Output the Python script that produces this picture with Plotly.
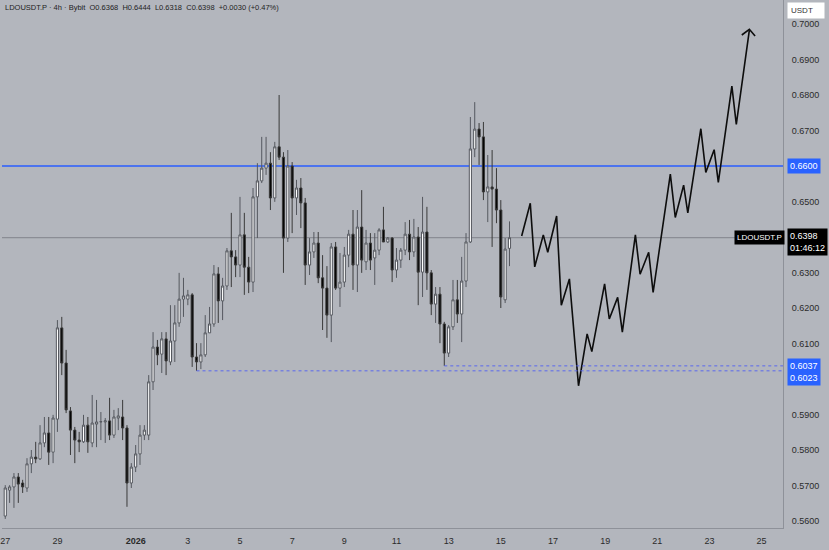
import pandas as pd
import plotly.graph_objects as go

# ---------------- data ----------------
first_bar = "2025-12-27 00:00"
bar_hours = 4

opens = [
    .5614, .5687, .5696, .5724, .5707, .5693, .5761, .5780, .5775, .5820,
    .5848, .5794, .5887, .6144, .6045, .5910, .5856, .5828, .5823, .5870,
    .5820, .5873, .5879, .5879, .5882, .5842, .5890, .5893, .5862, .5707,
    .5752, .5789, .5842, .5842, .5992, .6090, .6070, .6113, .6048, .6107,
    .6158, .6225, .6225, .6237, .6062, .6048, .6068, .6130, .6155, .6296,
    .6220, .6262, .6361, .6344, .6321, .6406, .6315, .6273, .6513, .6558,
    .6594, .6608, .6510, .6654, .6625, .6397, .6600, .6510, .6538, .6496,
    .6321, .6358, .6383, .6285, .6256, .6180, .6372, .6256, .6273, .6349,
    .6408, .6321, .6428, .6330, .6383, .6341, .6363, .6420, .6386, .6397,
    .6307, .6335, .6363, .6408, .6358, .6400, .6301, .6414, .6299, .6211,
    .6239, .6155, .6073, .6147, .6223, .6183, .6276, .6386, .6648, .6704,
    .6682, .6527, .6541, .6535, .6476, .6223, .6368]
highs = [
    .5701, .5701, .5735, .5735, .5716, .5777, .5800, .5823, .5870, .5893,
    .5893, .5899, .6166, .6175, .6082, .5921, .5865, .5851, .5899, .5893,
    .5955, .5941, .5907, .5890, .5947, .5913, .5918, .5941, .5870, .5763,
    .5814, .5870, .5870, .6011, .6132, .6110, .6132, .6132, .6208, .6208,
    .6299, .6285, .6251, .6242, .6101, .6101, .6180, .6203, .6321, .6315,
    .6285, .6369, .6468, .6363, .6513, .6468, .6344, .6538, .6608, .6682,
    .6682, .6639, .6668, .6800, .6639, .6645, .6611, .6561, .6566, .6510,
    .6397, .6414, .6414, .6349, .6318, .6383, .6386, .6355, .6372, .6420,
    .6476, .6476, .6532, .6420, .6411, .6411, .6425, .6485, .6400, .6400,
    .6369, .6369, .6442, .6448, .6451, .6428, .6513, .6485, .6307, .6259,
    .6259, .6161, .6152, .6279, .6279, .6344, .6411, .6738, .6780, .6721,
    .6724, .6631, .6645, .6594, .6504, .6397, .6444]
lows = [
    .5606, .5651, .5637, .5651, .5679, .5682, .5735, .5763, .5772, .5808,
    .5758, .5763, .5851, .6011, .5904, .5786, .5763, .5794, .5820, .5792,
    .5808, .5808, .5828, .5820, .5828, .5834, .5856, .5828, .5640, .5693,
    .5738, .5758, .5828, .5828, .5969, .6039, .6017, .6011, .6039, .6048,
    .6147, .6175, .6208, .6034, .6023, .6028, .6062, .6130, .6147, .6158,
    .6166, .6251, .6259, .6287, .6287, .6237, .6242, .6245, .6397, .6552,
    .6575, .6476, .6499, .6617, .6299, .6386, .6411, .6462, .6425, .6265,
    .6293, .6341, .6270, .6138, .6116, .6104, .6251, .6203, .6259, .6315,
    .6251, .6245, .6299, .6307, .6307, .6265, .6349, .6386, .6383, .6273,
    .6285, .6313, .6349, .6335, .6344, .6208, .6231, .6251, .6180, .6158,
    .6101, .6037, .6062, .6138, .6158, .6104, .6259, .6383, .6625, .6603,
    .6504, .6442, .6372, .6439, .6200, .6214, .6318]
closes = [
    .5693, .5696, .5724, .5704, .5696, .5761, .5780, .5775, .5820, .5848,
    .5794, .5890, .6144, .6045, .5913, .5856, .5828, .5823, .5870, .5823,
    .5876, .5879, .5880, .5882, .5842, .5893, .5896, .5862, .5707, .5752,
    .5789, .5842, .5856, .5992, .6090, .6068, .6113, .6051, .6107, .6158,
    .6225, .6234, .6237, .6062, .6048, .6068, .6130, .6155, .6296, .6220,
    .6262, .6361, .6344, .6321, .6406, .6315, .6273, .6513, .6558, .6594,
    .6608, .6510, .6654, .6625, .6397, .6600, .6510, .6538, .6496, .6321,
    .6358, .6383, .6285, .6256, .6180, .6372, .6256, .6273, .6349, .6408,
    .6321, .6428, .6335, .6383, .6335, .6363, .6420, .6386, .6397, .6307,
    .6335, .6363, .6408, .6358, .6400, .6301, .6414, .6299, .6211, .6239,
    .6155, .6073, .6147, .6223, .6183, .6276, .6386, .6648, .6704, .6682,
    .6527, .6541, .6535, .6476, .6231, .6366, .6398]

# projected path: days after 2026-01-01 and price
path_days = [14.80, 15.13, 15.30, 15.63, 15.80, 16.14, 16.32, 16.63, 16.98, 17.31,
             17.49, 17.98, 18.16, 18.48, 18.66, 19.16, 19.34, 19.67, 19.84, 20.50,
             20.69, 21.01, 21.17, 21.67, 21.86, 22.18, 22.34, 22.86, 23.03, 23.53]
path_prices = [0.6403, 0.6495, 0.6316, 0.6406, 0.6357, 0.6459, 0.6208, 0.6282, 0.5981, 0.6127,
               0.6077, 0.6268, 0.6169, 0.6230, 0.6132, 0.6406, 0.6295, 0.6357, 0.6244, 0.6577,
               0.6455, 0.6546, 0.6468, 0.6705, 0.6582, 0.6646, 0.6554, 0.6825, 0.6717, 0.6983]
arrow_days = [23.24, 23.53, 23.75]
arrow_prices = [0.6969, 0.6985, 0.6966]

resistance = 0.6600
support_hi = 0.6037
support_lo = 0.6023
support_hi_start = "2026-01-12 20:00"
support_lo_start = "2026-01-03 08:00"
last_price = 0.6398
countdown = "01:46:12"

x_tick_dates = ["2025-12-27", "2025-12-29", "2026-01-01", "2026-01-03", "2026-01-05",
                "2026-01-07", "2026-01-09", "2026-01-11", "2026-01-13", "2026-01-15",
                "2026-01-17", "2026-01-19", "2026-01-21", "2026-01-23", "2026-01-25"]
x_tick_text = ["27", "29", "<b>2026</b>", "3", "5", "7", "9", "11", "13", "15",
               "17", "19", "21", "23", "25"]
y_ticks = [0.56, 0.57, 0.58, 0.59, 0.61, 0.62, 0.63, 0.65, 0.67, 0.68, 0.69, 0.70]

header = ("LDOUSDT.P · 4h · Bybit  O0.6368  H0.6444  L0.6318  C0.6398  +0.0030 (+0.47%)")

# ---------------- figure ----------------
times = pd.date_range(first_bar, periods=len(opens), freq=f"{bar_hours}h")
jan1 = pd.Timestamp("2026-01-01")
path_x = [jan1 + pd.to_timedelta(d, unit="D") for d in path_days]
arrow_x = [jan1 + pd.to_timedelta(d, unit="D") for d in arrow_days]

BG = "#b3b6bd"
FONT = "Liberation Sans, Arial, sans-serif"

fig = go.Figure()

fig.add_trace(go.Candlestick(
    x=times, open=opens, high=highs, low=lows, close=closes,
    increasing=dict(fillcolor="#ffffff", line=dict(color="#55585f", width=1)),
    decreasing=dict(fillcolor="#050505", line=dict(color="#3a3a3a", width=1)),
    whiskerwidth=0, showlegend=False, hoverinfo="skip"))

fig.add_trace(go.Scatter(x=path_x, y=path_prices, mode="lines",
                         line=dict(color="#0d0d0d", width=1.6), showlegend=False,
                         hoverinfo="skip"))
fig.add_trace(go.Scatter(x=arrow_x, y=arrow_prices, mode="lines",
                         line=dict(color="#0d0d0d", width=1.6), showlegend=False,
                         hoverinfo="skip"))

# horizontal levels
fig.add_shape(type="line", xref="paper", x0=0, x1=1, yref="y", y0=resistance, y1=resistance,
              line=dict(color="#2a5cff", width=1.5), layer="below")
fig.add_shape(type="line", xref="paper", x0=0, x1=1, yref="y", y0=last_price, y1=last_price,
              line=dict(color="#80838b", width=1), layer="below")
x_end = jan1 + pd.to_timedelta(24.82, unit="D")
fig.add_shape(type="line", xref="x", x0=support_lo_start, x1=x_end, yref="y",
              y0=support_lo, y1=support_lo, line=dict(color="#5a68ee", width=1, dash="dot"))
fig.add_shape(type="line", xref="x", x0=support_hi_start, x1=x_end, yref="y",
              y0=support_hi, y1=support_hi, line=dict(color="#5a68ee", width=1, dash="dot"))

# price labels on the axis
fig.add_annotation(xref="paper", x=1, xanchor="left", xshift=4, yref="y", y=resistance,
                   text="0.6600", showarrow=False, bgcolor="#2962ff",
                   font=dict(color="white", size=9, family=FONT), borderpad=2)
fig.add_annotation(xref="paper", x=1, xanchor="left", xshift=4, yref="y", y=last_price,
                   yanchor="middle", yshift=-4,
                   text=f"{last_price:.4f}<br>{countdown}", showarrow=False, bgcolor="#000000",
                   font=dict(color="white", size=9, family=FONT), borderpad=2, align="left")
fig.add_annotation(xref="paper", x=1, xanchor="right", xshift=2, yref="y", y=last_price,
                   text="LDOUSDT.P", showarrow=False, bgcolor="#000000",
                   font=dict(color="white", size=8, family=FONT), borderpad=2)
fig.add_annotation(xref="paper", x=1, xanchor="left", xshift=4, yref="y",
                   y=(support_hi + support_lo) / 2, yshift=-4,
                   text=f"{support_hi:.4f}<br>{support_lo:.4f}", showarrow=False,
                   bgcolor="#2962ff", font=dict(color="white", size=9, family=FONT),
                   borderpad=2, align="left")
fig.add_annotation(xref="paper", x=1, xanchor="left", xshift=4, yref="paper", y=1,
                   yanchor="top", yshift=-2, text="USDT", showarrow=False,
                   bgcolor="#ffffff", font=dict(color="#333", size=8, family=FONT),
                   borderpad=3, width=30, align="left")
fig.add_annotation(xref="paper", x=0, xanchor="left", xshift=1, yref="paper", y=1,
                   yanchor="top", yshift=-1, text=header, showarrow=False,
                   font=dict(color="#1e1e1e", size=7.5, family=FONT))

fig.update_layout(
    width=829, height=550,
    margin=dict(l=0, r=46, t=0, b=22),
    paper_bgcolor=BG, plot_bgcolor=BG,
    font=dict(family=FONT, size=9, color="#2b2b2b"),
    showlegend=False,
    xaxis=dict(
        type="date", rangeslider=dict(visible=False),
        range=["2025-12-26 21:00", x_end],
        tickmode="array", tickvals=x_tick_dates, ticktext=x_tick_text,
        showgrid=False, zeroline=False, ticks="outside", ticklen=4, tickcolor=BG,
        showline=True, linecolor="#8e9199", linewidth=1,
        tickfont=dict(size=9, color="#2b2b2b"),
        ticklabeloverflow="allow",
    ),
    yaxis=dict(
        side="right", range=[0.55803, 0.70676],
        tickmode="array", tickvals=y_ticks, tickformat=".4f",
        showgrid=False, zeroline=False, ticks="", showline=True,
        linecolor="#8e9199", linewidth=1, tickfont=dict(size=9, color="#2b2b2b"),
        ticklabelstandoff=6,
    ),
)

fig.write_html(
    "out.html",
    config={"displayModeBar": False},
    post_script="document.body.style.margin='0';document.body.style.overflow='hidden';"
                "document.body.style.background='%s';" % BG,
)
